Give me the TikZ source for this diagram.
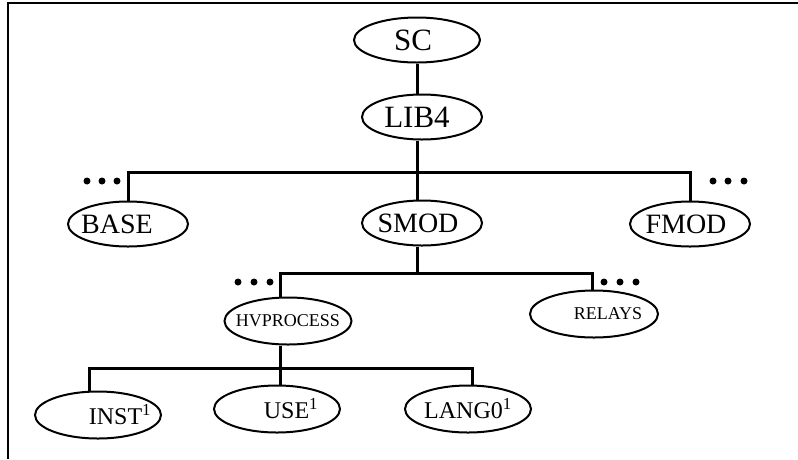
\documentclass[tikz,border=0pt]{standalone}
\usepackage{fontspec}
\setmainfont{Liberation Serif}
\usetikzlibrary{shapes.geometric}
\tikzset{
  oval/.style={draw, ellipse, line width=2pt, inner sep=0pt, minimum width=#1},
  oval/.default=120pt,
  big/.style={font=\fontsize{28}{30}\selectfont, minimum height=45pt},
  huge/.style={font=\fontsize{31}{33}\selectfont, minimum height=45pt},
  mid/.style={font=\fontsize{24}{26}\selectfont, minimum height=47pt},
  small/.style={font=\fontsize{18}{20}\selectfont, minimum height=47pt},
  conn/.style={line width=3pt},
  frame/.style={line width=2.6pt},
  dotmark/.style={fill, circle, inner sep=0pt, minimum size=7pt}
}
\newcommand{\ctext}[2]{\makebox[0pt]{\hspace*{#1pt}#2}}
\begin{document}
\begin{tikzpicture}[x=1pt, y=-1pt]
\useasboundingbox (0,0) rectangle (798,459);
% frame (top and left sides)
\coordinate (ftr) at (798,3);
\coordinate (ftl) at (8,3);
\coordinate (fbl) at (8,459);
\draw[frame] (ftr) -- (ftl) -- (fbl);

% nodes
\node[oval=126pt, huge] (sc)   at (417,40)  {\ctext{-8}{SC}};
\node[oval=120pt, huge] (lib)  at (422,117) {\ctext{-10}{LIB4}};
\node[oval=120pt, big] (base)  at (128,224) {\ctext{-22}{BASE}};
\node[oval=120pt, big] (smod)  at (422,223) {\ctext{-8}{SMOD}};
\node[oval=120pt, big] (fmod)  at (690,224) {\ctext{-8}{FMOD}};
\node[oval=127pt, small] (hvp) at (288,321) {\ctext{0}{HVPROCESS}};
\node[oval=128pt, small] (rel) at (594,314) {\ctext{28}{RELAYS}};
\node[oval=126pt, mid] (inst)  at (98,415)  {\ctext{44}{INST\textsuperscript{1}}};
\node[oval=126pt, mid] (use)   at (277,409) {\ctext{28}{USE\textsuperscript{1}}};
\node[oval=126pt, mid] (lang)  at (468,409) {\ctext{0}{LANG0\textsuperscript{1}}};

% bus points
\coordinate (b1) at (417,172);
\coordinate (b2) at (417,273);
\coordinate (b3) at (280,368);
\coordinate (h2l) at (280,273);
\coordinate (h2r) at (592,273);
\coordinate (h3l) at (89,368);
\coordinate (h3r) at (472,368);

% connectors
\draw[conn] (sc.south) -- (sc.south |- lib.north);
\draw[conn] (lib.south -| b1) -- (b1);
\draw[conn] (base.north) -- (base.north |- b1) -- (fmod.north |- b1) -- (fmod.north);
\draw[conn] (b1) -- (smod.north -| b1);

\draw[conn] (smod.south -| b2) -- (b2);
\draw[conn] (h2l |- hvp.north) -- (h2l) -- (h2r) -- (h2r |- rel.north);

\draw[conn] (hvp.south -| b3) -- (b3);
\draw[conn] (h3l |- inst.north) -- (h3l) -- (h3r) -- (h3r |- lang.north);
\draw[conn] (b3) -- (use.north -| b3);

% ellipsis dots
\foreach \x/\y [count=\i] in {87/181,102/181,117/181,713/181,728/181,744/181,238/282,254/282,270/282,604/282,620/282,636/282}
  \node[dotmark] (dot\i) at (\x,\y) {};
\end{tikzpicture}
\end{document}
